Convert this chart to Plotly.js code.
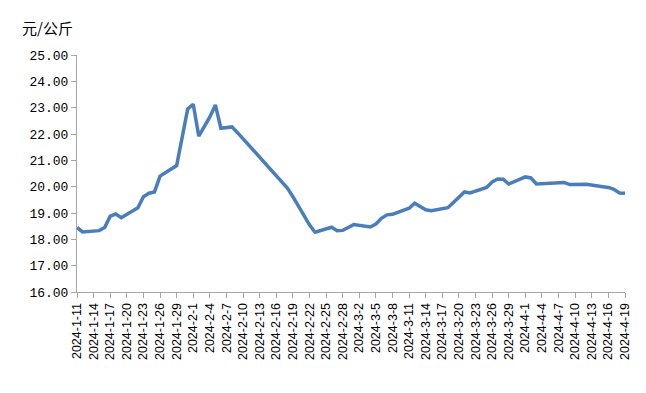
<!DOCTYPE html>
<html>
<head>
<meta charset="utf-8">
<script src="https://cdn.plot.ly/plotly-3.0.1.min.js"></script>
<style>html,body{margin:0;padding:0;background:#fff;}#chart{width:646px;height:393px;}</style>
</head>
<body>
<div id="chart"></div>
<script>
const dates = [
 '2024-01-11','2024-01-12','2024-01-15','2024-01-16','2024-01-17','2024-01-18','2024-01-19',
 '2024-01-22','2024-01-23','2024-01-24','2024-01-25','2024-01-26',
 '2024-01-29','2024-01-30','2024-01-31','2024-02-01','2024-02-02','2024-02-04',
 '2024-02-05','2024-02-06','2024-02-07','2024-02-08','2024-02-09',
 '2024-02-18','2024-02-19','2024-02-20','2024-02-21','2024-02-22','2024-02-23',
 '2024-02-26','2024-02-27','2024-02-28','2024-02-29','2024-03-01',
 '2024-03-04','2024-03-05','2024-03-06','2024-03-07','2024-03-08',
 '2024-03-11','2024-03-12','2024-03-13','2024-03-14','2024-03-15',
 '2024-03-18','2024-03-19','2024-03-20','2024-03-21','2024-03-22',
 '2024-03-25','2024-03-26','2024-03-27','2024-03-28','2024-03-29',
 '2024-04-01','2024-04-02','2024-04-03','2024-04-07',
 '2024-04-08','2024-04-09','2024-04-10','2024-04-11','2024-04-12',
 '2024-04-15','2024-04-16','2024-04-17','2024-04-18','2024-04-19'
];
const prices = [
 18.45,18.28,18.33,18.45,18.88,18.96,18.82,
 19.20,19.62,19.75,19.80,20.40,
 20.80,21.80,22.95,23.13,21.92,22.65,
 23.10,22.22,22.25,22.27,22.05,
 19.95,19.62,19.25,18.90,18.55,18.27,
 18.46,18.33,18.34,18.45,18.56,
 18.47,18.58,18.80,18.93,18.95,
 19.18,19.37,19.24,19.12,19.09,
 19.20,19.40,19.62,19.80,19.76,
 19.97,20.18,20.29,20.28,20.10,
 20.37,20.33,20.10,20.14,
 20.16,20.08,20.09,20.10,20.09,
 20.00,19.97,19.90,19.76,19.75
];
const unitLabel = '元/公斤';

const axisColor = '#a6a6a6';
const data = [{
  x: dates, y: prices, type: 'scatter', mode: 'lines',
  line: {color: '#4a7ebb', width: 3.5}, hoverinfo: 'skip'
}];
const layout = {
  width: 646, height: 393,
  margin: {l: 77, r: 21, t: 55, b: 101},
  paper_bgcolor: '#fff', plot_bgcolor: '#fff',
  showlegend: false,
  xaxis: {
    type: 'date',
    range: ['2024-01-11', '2024-04-19'],
    tick0: '2024-01-11', dtick: 3 * 86400000,
    tickformat: '%Y-%-m-%-d',
    tickangle: -90,
    ticks: 'outside', ticklen: 5, tickcolor: axisColor, tickwidth: 1,
    showline: true, linecolor: axisColor, linewidth: 1,
    showgrid: false, zeroline: false,
    tickfont: {family: 'Liberation Sans, Arial, sans-serif', size: 12.5, color: '#000'}
  },
  yaxis: {
    range: [16, 25], dtick: 1, tick0: 16,
    tickformat: '.2f',
    ticks: 'outside', ticklen: 5, tickcolor: axisColor, tickwidth: 1,
    showline: true, linecolor: axisColor, linewidth: 1,
    showgrid: false, zeroline: false,
    tickfont: {family: 'Liberation Mono, monospace', size: 13, color: '#000'}
  },
  annotations: [{
    text: unitLabel, xref: 'paper', yref: 'paper',
    x: -0.104, y: 1.114, xanchor: 'left', yanchor: 'middle', showarrow: false,
    font: {family: 'Noto Sans CJK SC', size: 15, color: '#000'}
  }]
};
Plotly.newPlot('chart', data, layout, {staticPlot: true, displayModeBar: false});
</script>
</body>
</html>
